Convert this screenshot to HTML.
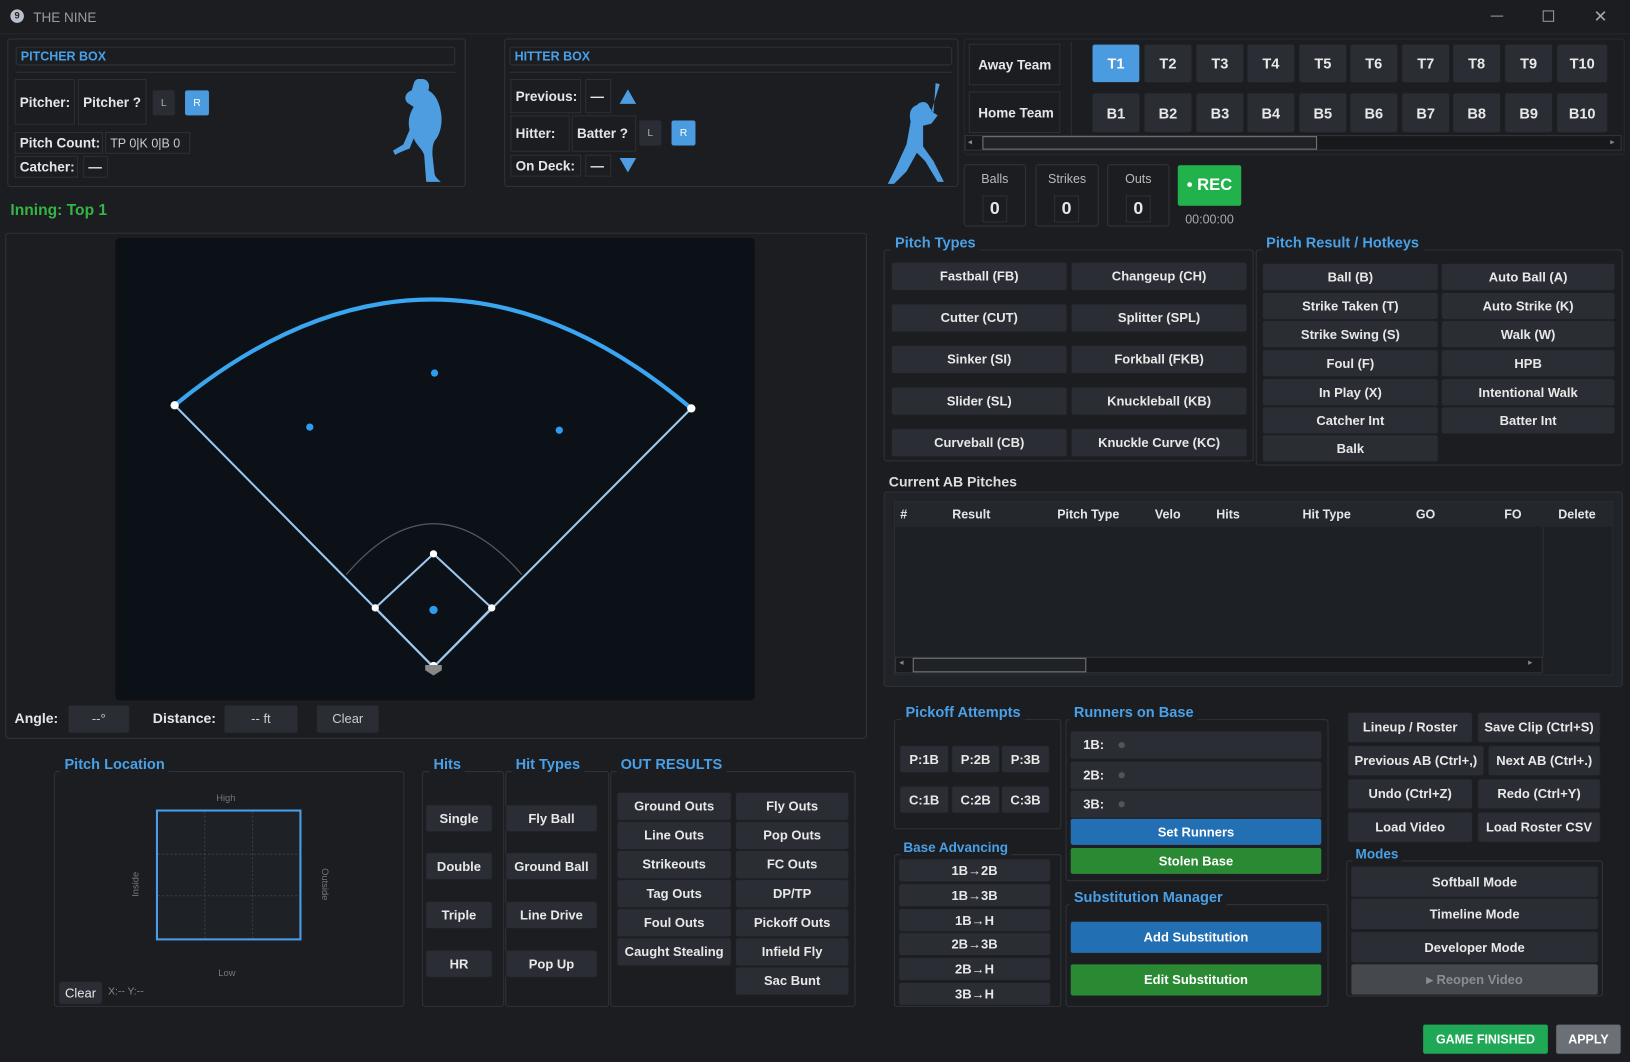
<!DOCTYPE html>
<html><head><meta charset="utf-8"><style>
*{box-sizing:border-box;margin:0;padding:0}
html,body{width:1630px;height:1062px;overflow:hidden;background:#1b1d21}
#s{position:absolute;left:0;top:0;width:1568px;height:1022px;transform:scale(1.03954,1.03914);transform-origin:0 0;font-family:"Liberation Sans",sans-serif;color:#e4e6ea;font-size:13px}
#s div{position:absolute}
.b{background:#2a2d33;border:1px solid #1e2024;border-radius:3px;display:flex;align-items:center;justify-content:center;font-weight:bold;font-size:12.5px;color:#e8e8e8;white-space:nowrap}
.f{border:1px solid #2f3237;border-radius:3px}
.l{border:1px solid #2c2f34;display:flex;align-items:center;padding-left:4px;font-weight:bold;font-size:13px;white-space:nowrap}
.h{color:#4aa0e6;font-weight:bold;font-size:14px;background:#1b1d21;padding:0 4px;white-space:nowrap}
.blue{background:#4b9be0;color:#fff}
.sb{background:#226fb3;color:#fff}
.gb{background:#2a8a33;color:#fff}
.t{font-size:14px}
</style></head><body><div id="s">
<!-- title -->
<div style="left:10px;top:9px;width:13px;height:13px;border-radius:50%;background:#b8c0cc;color:#222;font-size:9px;font-weight:bold;text-align:center;line-height:13px">9</div>
<div style="left:32px;top:9px;color:#9a9ca0;font-size:13px">THE NINE</div>
<div style="left:1434px;top:15px;width:12px;height:1px;background:#999"></div>
<div style="left:1484px;top:10px;width:11px;height:11px;border:1px solid #999"></div>
<div style="left:1533px;top:6px;color:#aaa;font-size:16px">✕</div>
<div style="left:0;top:32px;width:1568px;height:1px;background:#24262a"></div>

<!-- pitcher box -->
<div class="f" style="left:7px;top:37px;width:441px;height:143px"></div>
<div class="f" style="left:15px;top:45px;width:423px;height:18px;color:#4aa0e6;font-weight:bold;font-size:12px;padding:1px 4px">PITCHER BOX</div>
<div style="left:15px;top:69px;width:423px;height:1px;background:#2e3136"></div>
<div class="l" style="left:14px;top:76px;width:58px;height:44px">Pitcher:</div>
<div class="l" style="left:75px;top:76px;width:66px;height:44px">Pitcher ?</div>
<div class="b" style="left:146px;top:86px;width:23px;height:26px;font-size:10px;font-weight:normal;color:#aaa">L</div>
<div class="b blue" style="left:177px;top:86px;width:25px;height:26px;font-size:10px;font-weight:normal">R</div>
<div class="l" style="left:14px;top:127px;width:85px;height:21px">Pitch Count:</div>
<div class="l" style="left:101px;top:127px;width:82px;height:21px;font-weight:normal;font-size:12px;color:#ccc">TP 0|K 0|B 0</div>
<div class="l" style="left:14px;top:150px;width:61px;height:21px">Catcher:</div>
<div class="l" style="left:80px;top:150px;width:24px;height:21px">—</div>
<svg style="position:absolute;left:376px;top:74px" width="60" height="104" viewBox="0 0 60 104"><path fill="#4d9de0" d="M30 2c6 0 8 6 6 11 6 3 10 10 12 20 2 10 0 20-4 26-4 4-4 10-4 16l2 18c0 3 4 6 6 8h-14l-2-26c-2-6-8-10-10-16l-4 10c-6 2-10 4-14 6l-2-4 10-6 6-14c-2-8 0-16 4-22l-6-4c-4-4-2-10 4-12 2-6 2-10 6-11z"/></svg>

<!-- hitter box -->
<div class="f" style="left:485px;top:37px;width:437px;height:143px"></div>
<div class="f" style="left:490px;top:45px;width:426px;height:18px;color:#4aa0e6;font-weight:bold;font-size:12px;padding:1px 4px">HITTER BOX</div>
<div style="left:490px;top:69px;width:426px;height:1px;background:#2e3136"></div>
<div class="l" style="left:491px;top:76px;width:68px;height:33px">Previous:</div>
<div class="l" style="left:563px;top:76px;width:25px;height:33px">—</div>
<div style="left:596px;top:86px;width:0;height:0;border-left:8px solid transparent;border-right:8px solid transparent;border-bottom:14px solid #4d9de0"></div>
<div class="l" style="left:491px;top:111px;width:57px;height:35px">Hitter:</div>
<div class="l" style="left:550px;top:111px;width:62px;height:35px">Batter ?</div>
<div class="b" style="left:614px;top:115px;width:23px;height:26px;font-size:10px;font-weight:normal;color:#aaa">L</div>
<div class="b blue" style="left:645px;top:115px;width:25px;height:26px;font-size:10px;font-weight:normal">R</div>
<div class="l" style="left:491px;top:149px;width:68px;height:21px">On Deck:</div>
<div class="l" style="left:563px;top:149px;width:25px;height:21px">—</div>
<div style="left:596px;top:152px;width:0;height:0;border-left:8px solid transparent;border-right:8px solid transparent;border-top:14px solid #4d9de0"></div>
<svg style="position:absolute;left:846px;top:78px" width="72" height="100" viewBox="0 0 72 100"><path fill="#4d9de0" d="M54 2l4 1-8 26 6 4-6 8-8 2 0 20 10 14 10 20h-6l-12-20-8-8-10 18-12 12h-6l8-16 10-22 4-22c-2-8 0-14 6-16 4-4 10-4 12 2l4 6z"/></svg>

<div style="left:10px;top:194px;color:#36b443;font-weight:bold;font-size:15px">Inning: Top 1</div>

<!-- teams -->
<div class="f" style="left:927px;top:37px;width:636px;height:112px;border-color:#262930"></div>
<div class="l" style="left:932px;top:42px;width:88px;height:40px;padding-left:8px">Away Team</div>
<div class="l" style="left:932px;top:88px;width:88px;height:40px;padding-left:8px">Home Team</div>
<div style="left:1030px;top:40px;width:1px;height:90px;background:#2c2f34"></div>
<div class="b blue t" style="left:1050px;top:42px;width:47px;height:38px">T1</div>
<div class="b t" style="left:1100px;top:42px;width:47px;height:38px">T2</div>
<div class="b t" style="left:1150px;top:42px;width:47px;height:38px">T3</div>
<div class="b t" style="left:1199px;top:42px;width:47px;height:38px">T4</div>
<div class="b t" style="left:1249px;top:42px;width:47px;height:38px">T5</div>
<div class="b t" style="left:1298px;top:42px;width:47px;height:38px">T6</div>
<div class="b t" style="left:1348px;top:42px;width:47px;height:38px">T7</div>
<div class="b t" style="left:1397px;top:42px;width:47px;height:38px">T8</div>
<div class="b t" style="left:1447px;top:42px;width:47px;height:38px">T9</div>
<div class="b t" style="left:1497px;top:42px;width:50px;height:38px">T10</div>
<div class="b t" style="left:1050px;top:89px;width:47px;height:39px">B1</div>
<div class="b t" style="left:1100px;top:89px;width:47px;height:39px">B2</div>
<div class="b t" style="left:1150px;top:89px;width:47px;height:39px">B3</div>
<div class="b t" style="left:1199px;top:89px;width:47px;height:39px">B4</div>
<div class="b t" style="left:1249px;top:89px;width:47px;height:39px">B5</div>
<div class="b t" style="left:1298px;top:89px;width:47px;height:39px">B6</div>
<div class="b t" style="left:1348px;top:89px;width:47px;height:39px">B7</div>
<div class="b t" style="left:1397px;top:89px;width:47px;height:39px">B8</div>
<div class="b t" style="left:1447px;top:89px;width:47px;height:39px">B9</div>
<div class="b t" style="left:1497px;top:89px;width:50px;height:39px">B10</div>
<div style="left:928px;top:130px;width:632px;height:15px;background:#17191c;border:1px solid #33363b"></div>
<div style="left:945px;top:131px;width:322px;height:13px;background:#1f2226;border:1px solid #777"></div>
<div style="left:931px;top:132px;color:#888;font-size:8px">◂</div>
<div style="left:1549px;top:132px;color:#888;font-size:8px">▸</div>

<!-- count -->
<div class="f" style="left:927px;top:158px;width:60px;height:60px"></div>
<div class="f" style="left:996px;top:158px;width:61px;height:60px"></div>
<div class="f" style="left:1065px;top:158px;width:60px;height:60px"></div>
<div style="left:927px;top:165px;width:60px;text-align:center;color:#bbb;font-size:12px">Balls</div>
<div style="left:996px;top:165px;width:61px;text-align:center;color:#bbb;font-size:12px">Strikes</div>
<div style="left:1065px;top:165px;width:60px;text-align:center;color:#bbb;font-size:12px">Outs</div>
<div class="l" style="left:945px;top:188px;width:24px;height:26px;justify-content:center;padding:0;font-size:17px">0</div>
<div class="l" style="left:1014px;top:188px;width:24px;height:26px;justify-content:center;padding:0;font-size:17px">0</div>
<div class="l" style="left:1083px;top:188px;width:24px;height:26px;justify-content:center;padding:0;font-size:17px">0</div>
<div class="b" style="left:1132px;top:158px;width:63px;height:41px;background:#22b24c;color:#fff;font-size:16px">• REC</div>
<div style="left:1132px;top:204px;width:63px;text-align:center;color:#aaa;font-size:12px">00:00:00</div>

<!-- pitch types -->
<div class="f" style="left:850px;top:240px;width:356px;height:204px"></div>
<div class="h" style="left:857px;top:225px">Pitch Types</div>
<div class="b" style="left:857px;top:252px;width:170px;height:28px">Fastball (FB)</div>
<div class="b" style="left:1030px;top:252px;width:170px;height:28px">Changeup (CH)</div>
<div class="b" style="left:857px;top:292px;width:170px;height:28px">Cutter (CUT)</div>
<div class="b" style="left:1030px;top:292px;width:170px;height:28px">Splitter (SPL)</div>
<div class="b" style="left:857px;top:332px;width:170px;height:28px">Sinker (SI)</div>
<div class="b" style="left:1030px;top:332px;width:170px;height:28px">Forkball (FKB)</div>
<div class="b" style="left:857px;top:372px;width:170px;height:28px">Slider (SL)</div>
<div class="b" style="left:1030px;top:372px;width:170px;height:28px">Knuckleball (KB)</div>
<div class="b" style="left:857px;top:412px;width:170px;height:28px">Curveball (CB)</div>
<div class="b" style="left:1030px;top:412px;width:170px;height:28px">Knuckle Curve (KC)</div>

<!-- pitch results -->
<div class="f" style="left:1208px;top:240px;width:353px;height:208px"></div>
<div class="h" style="left:1214px;top:225px">Pitch Result / Hotkeys</div>
<div class="b" style="left:1214px;top:253px;width:170px;height:27px">Ball (B)</div>
<div class="b" style="left:1386px;top:253px;width:168px;height:27px">Auto Ball (A)</div>
<div class="b" style="left:1214px;top:281px;width:170px;height:27px">Strike Taken (T)</div>
<div class="b" style="left:1386px;top:281px;width:168px;height:27px">Auto Strike (K)</div>
<div class="b" style="left:1214px;top:308px;width:170px;height:27px">Strike Swing (S)</div>
<div class="b" style="left:1386px;top:308px;width:168px;height:27px">Walk (W)</div>
<div class="b" style="left:1214px;top:336px;width:170px;height:27px">Foul (F)</div>
<div class="b" style="left:1386px;top:336px;width:168px;height:27px">HPB</div>
<div class="b" style="left:1214px;top:364px;width:170px;height:27px">In Play (X)</div>
<div class="b" style="left:1386px;top:364px;width:168px;height:27px">Intentional Walk</div>
<div class="b" style="left:1214px;top:391px;width:170px;height:27px">Catcher Int</div>
<div class="b" style="left:1386px;top:391px;width:168px;height:27px">Batter Int</div>
<div class="b" style="left:1214px;top:418px;width:170px;height:27px">Balk</div>

<!-- current AB -->
<div style="left:855px;top:456px;font-weight:bold;font-size:13.5px;color:#ddd">Current AB Pitches</div>
<div class="f" style="left:850px;top:473px;width:711px;height:188px;background:#202328"></div>
<div style="left:860px;top:482px;width:692px;height:168px;background:#1d2025;border:1px solid #2a2d32"></div>
<div style="left:861px;top:483px;width:690px;height:24px;background:#24272c;font-weight:bold;font-size:12px"></div>
<div style="left:866px;top:488px;font-weight:bold;font-size:12px">#</div>
<div style="left:916px;top:488px;font-weight:bold;font-size:12px">Result</div>
<div style="left:1017px;top:488px;font-weight:bold;font-size:12px">Pitch Type</div>
<div style="left:1111px;top:488px;font-weight:bold;font-size:12px">Velo</div>
<div style="left:1170px;top:488px;font-weight:bold;font-size:12px">Hits</div>
<div style="left:1253px;top:488px;font-weight:bold;font-size:12px">Hit Type</div>
<div style="left:1362px;top:488px;font-weight:bold;font-size:12px">GO</div>
<div style="left:1447px;top:488px;font-weight:bold;font-size:12px">FO</div>
<div style="left:1499px;top:488px;font-weight:bold;font-size:12px">Delete</div>
<div style="left:1484px;top:507px;width:1px;height:125px;background:#2d3035"></div>
<div style="left:861px;top:632px;width:623px;height:16px;background:#17191c;border:1px solid #33363b"></div>
<div style="left:878px;top:633px;width:167px;height:14px;border:1px solid #777;background:#1f2226"></div>
<div style="left:865px;top:633px;color:#888;font-size:8px">◂</div>
<div style="left:1470px;top:633px;color:#888;font-size:8px">▸</div>

<!-- field -->
<div class="f" style="left:5px;top:224px;width:829px;height:487px"></div>
<div style="left:111px;top:229px;width:615px;height:445px;background:#0c1017;border-radius:4px"></div>
<svg style="position:absolute;left:0;top:0" width="840" height="700">
<path d="M168 390 Q418 185 665 393" fill="none" stroke="#3ba6f0" stroke-width="4"/>
<path d="M168 390 L417 642 L665 393" fill="none" stroke="#9cc8ee" stroke-width="2"/>
<path d="M333 553 Q417 455 502 553" fill="none" stroke="#555a62" stroke-width="1.2"/>
<path d="M417 533 L473 585 L417 642 L361 585 Z" fill="none" stroke="#9cc8ee" stroke-width="2"/>
<g fill="#fff"><circle cx="168" cy="390" r="4"/><circle cx="665" cy="393" r="4"/><circle cx="417" cy="533" r="3.5"/><circle cx="473" cy="585" r="3.5"/><circle cx="361" cy="585" r="3.5"/><circle cx="417" cy="641" r="4"/></g>
<path d="M409 640 L425 640 L425 645 L417 650 L409 645Z" fill="#888"/>
<g fill="#2b9cf0"><circle cx="418" cy="359" r="3.5"/><circle cx="298" cy="411" r="3.5"/><circle cx="538" cy="414" r="3.5"/><circle cx="417" cy="587" r="4"/></g>
</svg>
<div style="left:14px;top:684px;font-weight:bold;font-size:13.5px">Angle:</div>
<div class="b" style="left:65px;top:678px;width:60px;height:28px;font-weight:normal;color:#ccc">--°</div>
<div style="left:147px;top:684px;font-weight:bold;font-size:13.5px">Distance:</div>
<div class="b" style="left:215px;top:678px;width:72px;height:28px;font-weight:normal;color:#ccc">-- ft</div>
<div class="b" style="left:304px;top:678px;width:61px;height:28px;font-weight:normal;color:#ccc">Clear</div>

<!-- pitch location -->
<div class="f" style="left:52px;top:742px;width:337px;height:227px"></div>
<div class="h" style="left:58px;top:727px">Pitch Location</div>
<div style="left:150px;top:779px;width:140px;height:126px;border:2px solid #4a9ee8;background:#1e2126"></div>
<svg style="position:absolute;left:152px;top:781px" width="136" height="122"><g stroke="#3a3e44" stroke-dasharray="2 2"><line x1="45" y1="0" x2="45" y2="122"/><line x1="91" y1="0" x2="91" y2="122"/><line x1="0" y1="41" x2="136" y2="41"/><line x1="0" y1="81" x2="136" y2="81"/></g></svg>
<div style="left:208px;top:763px;color:#777;font-size:9px">High</div>
<div style="left:210px;top:931px;color:#777;font-size:9px">Low</div>
<div style="left:118px;top:846px;color:#777;font-size:9px;transform:rotate(-90deg)">Inside</div>
<div style="left:297px;top:846px;color:#777;font-size:9px;transform:rotate(90deg)">Outside</div>
<div class="b" style="left:56px;top:944px;width:43px;height:23px;font-weight:normal">Clear</div>
<div style="left:104px;top:949px;color:#888;font-size:10px">X:-- Y:--</div>

<!-- hits -->
<div class="f" style="left:406px;top:742px;width:79px;height:227px"></div>
<div class="h" style="left:413px;top:727px">Hits</div>
<div class="b" style="left:409px;top:774px;width:65px;height:27px">Single</div>
<div class="b" style="left:409px;top:820px;width:65px;height:27px">Double</div>
<div class="b" style="left:409px;top:867px;width:65px;height:27px">Triple</div>
<div class="b" style="left:409px;top:914px;width:65px;height:27px">HR</div>
<div class="f" style="left:486px;top:742px;width:100px;height:227px"></div>
<div class="h" style="left:492px;top:727px">Hit Types</div>
<div class="b" style="left:486px;top:774px;width:89px;height:27px">Fly Ball</div>
<div class="b" style="left:486px;top:820px;width:89px;height:27px">Ground Ball</div>
<div class="b" style="left:486px;top:867px;width:89px;height:27px">Line Drive</div>
<div class="b" style="left:486px;top:914px;width:89px;height:27px">Pop Up</div>
<div class="f" style="left:587px;top:742px;width:236px;height:227px"></div>
<div class="h" style="left:593px;top:727px">OUT RESULTS</div>
<div class="b" style="left:593px;top:762px;width:111px;height:28px">Ground Outs</div>
<div class="b" style="left:707px;top:762px;width:110px;height:28px">Fly Outs</div>
<div class="b" style="left:593px;top:790px;width:111px;height:28px">Line Outs</div>
<div class="b" style="left:707px;top:790px;width:110px;height:28px">Pop Outs</div>
<div class="b" style="left:593px;top:818px;width:111px;height:28px">Strikeouts</div>
<div class="b" style="left:707px;top:818px;width:110px;height:28px">FC Outs</div>
<div class="b" style="left:593px;top:846px;width:111px;height:28px">Tag Outs</div>
<div class="b" style="left:707px;top:846px;width:110px;height:28px">DP/TP</div>
<div class="b" style="left:593px;top:874px;width:111px;height:28px">Foul Outs</div>
<div class="b" style="left:707px;top:874px;width:110px;height:28px">Pickoff Outs</div>
<div class="b" style="left:593px;top:902px;width:111px;height:28px">Caught Stealing</div>
<div class="b" style="left:707px;top:902px;width:110px;height:28px">Infield Fly</div>
<div class="b" style="left:707px;top:930px;width:110px;height:28px">Sac Bunt</div>

<!-- pickoff -->
<div class="f" style="left:860px;top:692px;width:161px;height:106px"></div>
<div class="h" style="left:867px;top:677px">Pickoff Attempts</div>
<div class="b" style="left:865px;top:717px;width:48px;height:27px">P:1B</div>
<div class="b" style="left:915px;top:717px;width:47px;height:27px">P:2B</div>
<div class="b" style="left:963px;top:717px;width:47px;height:27px">P:3B</div>
<div class="b" style="left:865px;top:756px;width:48px;height:27px">C:1B</div>
<div class="b" style="left:915px;top:756px;width:47px;height:27px">C:2B</div>
<div class="b" style="left:963px;top:756px;width:47px;height:27px">C:3B</div>
<div class="f" style="left:860px;top:822px;width:161px;height:147px"></div>
<div style="left:866px;top:808px;color:#4aa0e6;font-weight:bold;font-size:13px;background:#1b1d21;padding:0 3px">Base Advancing</div>
<div class="b" style="left:864px;top:826px;width:147px;height:23px">1B→2B</div>
<div class="b" style="left:864px;top:850px;width:147px;height:23px">1B→3B</div>
<div class="b" style="left:864px;top:874px;width:147px;height:23px">1B→H</div>
<div class="b" style="left:864px;top:897px;width:147px;height:23px">2B→3B</div>
<div class="b" style="left:864px;top:921px;width:147px;height:23px">2B→H</div>
<div class="b" style="left:864px;top:945px;width:147px;height:23px">3B→H</div>

<!-- runners -->
<div class="f" style="left:1025px;top:692px;width:253px;height:156px"></div>
<div class="h" style="left:1029px;top:677px">Runners on Base</div>
<div class="b" style="left:1029px;top:703px;width:243px;height:28px;justify-content:flex-start;padding-left:12px">1B:<span style="margin-left:14px;width:6px;height:6px;border-radius:50%;background:#555"></span></div>
<div class="b" style="left:1029px;top:732px;width:243px;height:28px;justify-content:flex-start;padding-left:12px">2B:<span style="margin-left:14px;width:6px;height:6px;border-radius:50%;background:#555"></span></div>
<div class="b" style="left:1029px;top:760px;width:243px;height:28px;justify-content:flex-start;padding-left:12px">3B:<span style="margin-left:14px;width:6px;height:6px;border-radius:50%;background:#555"></span></div>
<div class="b sb" style="left:1029px;top:787px;width:243px;height:27px">Set Runners</div>
<div class="b gb" style="left:1029px;top:815px;width:243px;height:27px">Stolen Base</div>
<div class="f" style="left:1025px;top:870px;width:253px;height:99px"></div>
<div class="h" style="left:1029px;top:855px">Substitution Manager</div>
<div class="b sb" style="left:1029px;top:886px;width:243px;height:32px">Add Substitution</div>
<div class="b gb" style="left:1029px;top:927px;width:243px;height:32px">Edit Substitution</div>

<!-- right buttons -->
<div class="b" style="left:1296px;top:685px;width:121px;height:30px">Lineup / Roster</div>
<div class="b" style="left:1421px;top:685px;width:119px;height:30px">Save Clip (Ctrl+S)</div>
<div class="b" style="left:1296px;top:717px;width:132px;height:30px">Previous AB (Ctrl+,)</div>
<div class="b" style="left:1431px;top:717px;width:109px;height:30px">Next AB (Ctrl+.)</div>
<div class="b" style="left:1296px;top:749px;width:121px;height:30px">Undo (Ctrl+Z)</div>
<div class="b" style="left:1421px;top:749px;width:119px;height:30px">Redo (Ctrl+Y)</div>
<div class="b" style="left:1296px;top:781px;width:121px;height:30px">Load Video</div>
<div class="b" style="left:1421px;top:781px;width:119px;height:30px">Load Roster CSV</div>
<div class="f" style="left:1295px;top:828px;width:247px;height:131px"></div>
<div style="left:1301px;top:814px;color:#4aa0e6;font-weight:bold;font-size:13px;background:#1b1d21;padding:0 3px">Modes</div>
<div class="b" style="left:1299px;top:833px;width:239px;height:31px">Softball Mode</div>
<div class="b" style="left:1299px;top:864px;width:239px;height:31px">Timeline Mode</div>
<div class="b" style="left:1299px;top:896px;width:239px;height:31px">Developer Mode</div>
<div class="b" style="left:1299px;top:927px;width:239px;height:31px;background:#45484d;color:#8a8d92">▸ Reopen Video</div>

<div class="b" style="left:1368px;top:985px;width:122px;height:30px;background:#1fa855;color:#fff;font-size:12px">GAME FINISHED</div>
<div class="b" style="left:1496px;top:985px;width:64px;height:30px;background:#6b7076;color:#fff;font-size:12px">APPLY</div>
</div></body></html>
